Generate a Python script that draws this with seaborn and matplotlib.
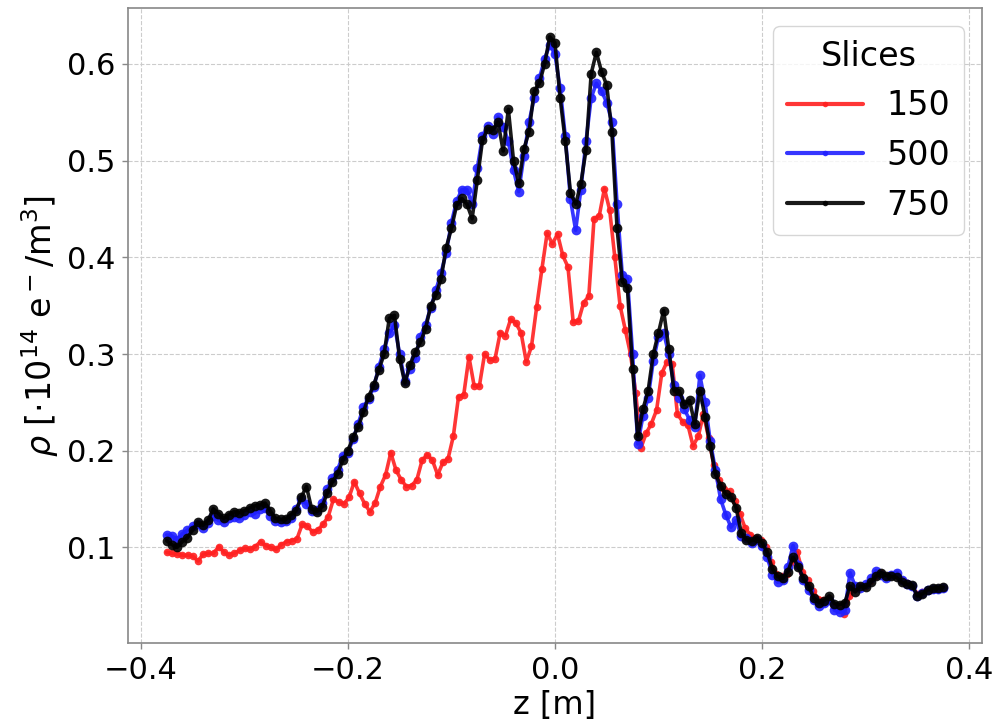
import numpy as np
import pandas as pd
import matplotlib
matplotlib.use("Agg")
import matplotlib.pyplot as plt
import seaborn as sns

# ---- data ----
z_start, z_end = -0.375, 0.375

rho_150 = [0.095, 0.094, 0.093, 0.092, 0.092, 0.091, 0.086, 0.093, 0.094, 0.094,
           0.101, 0.095, 0.092, 0.094, 0.097, 0.099, 0.098, 0.101, 0.106, 0.102,
           0.100, 0.098, 0.103, 0.106, 0.107, 0.109, 0.124, 0.122, 0.116, 0.118,
           0.124, 0.132, 0.150, 0.147, 0.145, 0.152, 0.168, 0.156, 0.145, 0.137,
           0.146, 0.163, 0.175, 0.198, 0.180, 0.170, 0.163, 0.164, 0.170, 0.190,
           0.196, 0.190, 0.175, 0.188, 0.192, 0.215, 0.256, 0.258, 0.297, 0.267,
           0.267, 0.300, 0.294, 0.295, 0.322, 0.319, 0.336, 0.332, 0.322, 0.292,
           0.308, 0.349, 0.388, 0.425, 0.414, 0.424, 0.402, 0.390, 0.333, 0.334,
           0.353, 0.360, 0.440, 0.443, 0.471, 0.449, 0.400, 0.350, 0.325, 0.300,
           0.260, 0.203, 0.218, 0.228, 0.242, 0.280, 0.292, 0.290, 0.238, 0.230,
           0.227, 0.205, 0.215, 0.238, 0.213, 0.185, 0.170, 0.160, 0.158, 0.148,
           0.135, 0.120, 0.113, 0.110, 0.108, 0.100, 0.085, 0.073, 0.070, 0.073,
           0.085, 0.095, 0.075, 0.066, 0.055, 0.047, 0.046, 0.048, 0.040, 0.036,
           0.031, 0.050, 0.058, 0.060, 0.060, 0.065, 0.071, 0.074, 0.070, 0.072,
           0.073, 0.066, 0.063, 0.060, 0.052, 0.054, 0.056, 0.057, 0.057, 0.058]

rho_500 = [0.113, 0.112, 0.108, 0.114, 0.118, 0.122, 0.124, 0.120, 0.125, 0.133,
           0.128, 0.126, 0.130, 0.132, 0.130, 0.134, 0.137, 0.135, 0.140, 0.141,
           0.133, 0.127, 0.126, 0.127, 0.130, 0.140, 0.150, 0.145, 0.138, 0.139,
           0.146, 0.160, 0.172, 0.180, 0.195, 0.198, 0.212, 0.228, 0.245, 0.254,
           0.266, 0.287, 0.305, 0.322, 0.330, 0.300, 0.272, 0.285, 0.296, 0.318,
           0.330, 0.348, 0.366, 0.384, 0.405, 0.436, 0.458, 0.470, 0.470, 0.455,
           0.492, 0.525, 0.536, 0.528, 0.545, 0.535, 0.520, 0.490, 0.468, 0.505,
           0.540, 0.565, 0.585, 0.605, 0.620, 0.610, 0.575, 0.525, 0.460, 0.428,
           0.470, 0.520, 0.565, 0.580, 0.572, 0.560, 0.540, 0.455, 0.382, 0.378,
           0.300, 0.207, 0.236, 0.255, 0.293, 0.318, 0.322, 0.300, 0.268, 0.255,
           0.243, 0.232, 0.225, 0.278, 0.250, 0.210, 0.180, 0.150, 0.134, 0.121,
           0.128, 0.112, 0.110, 0.105, 0.108, 0.102, 0.090, 0.072, 0.064, 0.066,
           0.080, 0.102, 0.082, 0.066, 0.056, 0.046, 0.040, 0.043, 0.046, 0.035,
           0.033, 0.035, 0.074, 0.060, 0.058, 0.062, 0.068, 0.076, 0.072, 0.068,
           0.072, 0.074, 0.066, 0.062, 0.060, 0.050, 0.053, 0.056, 0.057, 0.057,
           0.058]

rho_750 = [0.107, 0.103, 0.100, 0.106, 0.110, 0.118, 0.126, 0.123, 0.128, 0.140,
           0.135, 0.130, 0.134, 0.137, 0.136, 0.138, 0.141, 0.143, 0.144, 0.146,
           0.138, 0.130, 0.129, 0.129, 0.134, 0.138, 0.152, 0.163, 0.140, 0.137,
           0.142, 0.156, 0.168, 0.176, 0.190, 0.200, 0.214, 0.225, 0.240, 0.256,
           0.268, 0.284, 0.300, 0.337, 0.340, 0.295, 0.270, 0.289, 0.302, 0.312,
           0.326, 0.350, 0.361, 0.378, 0.410, 0.430, 0.454, 0.461, 0.455, 0.440,
           0.480, 0.521, 0.533, 0.532, 0.540, 0.510, 0.553, 0.500, 0.477, 0.512,
           0.530, 0.572, 0.580, 0.600, 0.628, 0.622, 0.565, 0.520, 0.467, 0.455,
           0.476, 0.511, 0.590, 0.612, 0.592, 0.578, 0.530, 0.430, 0.375, 0.368,
           0.285, 0.215, 0.243, 0.262, 0.300, 0.322, 0.345, 0.305, 0.262, 0.262,
           0.248, 0.252, 0.228, 0.262, 0.235, 0.205, 0.176, 0.164, 0.155, 0.152,
           0.141, 0.115, 0.108, 0.107, 0.110, 0.105, 0.095, 0.078, 0.070, 0.068,
           0.075, 0.090, 0.080, 0.068, 0.060, 0.048, 0.043, 0.045, 0.050, 0.042,
           0.041, 0.043, 0.060, 0.054, 0.060, 0.059, 0.064, 0.070, 0.074, 0.071,
           0.070, 0.069, 0.064, 0.062, 0.061, 0.050, 0.052, 0.056, 0.058, 0.058,
           0.059]

series_labels = ["150", "500", "750"]
series_colors = ["#ff2020", "#2020ff", "#000000"]
series_msize = [5.5, 7.0, 7.0]

# ---- build long table ----
frames = []
for lab, vals in zip(series_labels, [rho_150, rho_500, rho_750]):
    z = np.linspace(z_start, z_end, len(vals))
    frames.append(pd.DataFrame({"z": z, "rho": vals, "Slices": lab}))
df = pd.concat(frames, ignore_index=True)

sns.set_style("whitegrid")
plt.rcParams["font.family"] = ["DejaVu Sans"]
plt.rcParams["text.color"] = "black"
plt.rcParams["axes.labelcolor"] = "black"
plt.rcParams["xtick.color"] = "black"
plt.rcParams["ytick.color"] = "black"

fig = plt.figure(figsize=(9.99, 7.25), dpi=100)
ax = fig.add_axes([0.128, 0.113, 0.855, 0.876])

for lab, col, ms in zip(series_labels, series_colors, series_msize):
    sub = df[df["Slices"] == lab]
    sns.lineplot(data=sub, x="z", y="rho", ax=ax, color=col, label=lab,
                 marker="o", markersize=ms, markeredgewidth=0,
                 linewidth=2.6, sort=False, estimator=None, alpha=0.9)

ax.set_xlabel("z [m]", fontsize=23, labelpad=4)
ax.set_ylabel(r"$\rho$ [$\cdot10^{14}$ e$^-$/m$^3$]", fontsize=24, labelpad=4)
ax.set_xticks([-0.4, -0.2, 0.0, 0.2, 0.4])
ax.set_yticks([0.1, 0.2, 0.3, 0.4, 0.5, 0.6])
ax.tick_params(axis="both", labelsize=22, length=4, width=1, color="#888888",
               labelcolor="black", bottom=True, left=True, pad=5)
ax.grid(True, linestyle="--", linewidth=0.8, color="#cccccc")
for s in ax.spines.values():
    s.set_color("#888888")
    s.set_linewidth(1.2)

leg = ax.legend(title="Slices", fontsize=24, title_fontsize=24, loc="upper right",
                handlelength=2.3, handletextpad=0.7, frameon=True,
                borderpad=0.4, labelspacing=0.5, borderaxespad=0.55)
leg.get_frame().set_edgecolor("#cccccc")
for h in leg.get_lines():
    h.set_markersize(4)
    h.set_linewidth(3)

fig.savefig("out.png", dpi=100)
